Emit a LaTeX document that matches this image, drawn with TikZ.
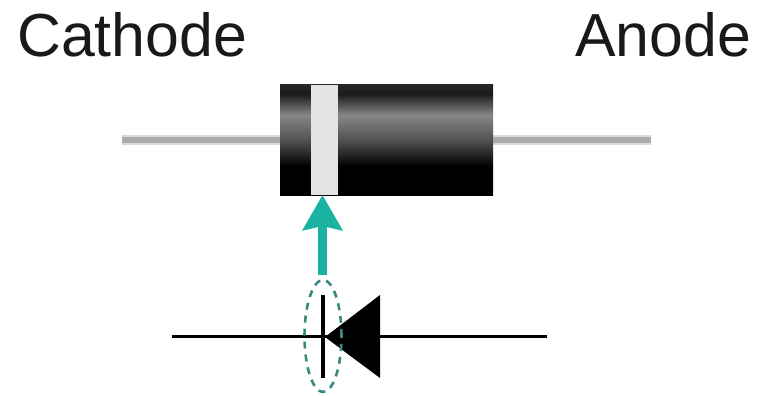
\documentclass[tikz,border=0pt]{standalone}
\usepackage{fontspec}
\setmainfont{Liberation Sans}
\usetikzlibrary{arrows.meta,shapes.geometric}
\pgfdeclareverticalshading{barrel}{100bp}{color(0bp)=(black);color(25bp)=(black);color(38bp)=(black);color(50bp)=(black!68!white);color(61.4bp)=(black!47!white);color(71bp)=(black!90!white);color(75bp)=(black!85!white);color(100bp)=(black)}
\definecolor{teal1}{RGB}{26,178,160}
\tikzset{
  x=1pt,y=-1pt,
  label text/.style={inner sep=0pt,anchor=base west,text=black!90,font=\fontsize{60.8}{61}\selectfont},
  barrel body/.style={inner sep=0pt,minimum height=110pt,shading=barrel,anchor=north west,outer sep=0pt},
  stripe/.style={inner sep=0pt,minimum height=110pt,minimum width=27pt,fill=black!11,anchor=north west,outer sep=0pt},
  lead edge/.style={line width=10pt,draw=black!14},
  lead/.style={line width=5.5pt,draw=black!33},
  wire/.style={line width=3pt,draw=black},
  pointer/.style={line width=9pt,draw=teal1,-{Stealth[length=35pt,width=39pt,inset=4pt]}},
  halo/.style={draw=teal1!65!black!85,dash pattern=on 7pt off 6pt,line width=2.6pt,ellipse,minimum width=37pt,minimum height=112pt,inner sep=0pt},
}
\begin{document}
\begin{tikzpicture}
\useasboundingbox (0,0) rectangle (758,396);
\coordinate (la) at (122,140);
\coordinate (lb) at (651,140);
\coordinate (wa) at (172,336);
\coordinate (wb) at (547,336);
\draw[lead edge] (la) -- (lb);
\draw[lead] (la) -- (lb);
\node[barrel body,minimum width=213pt] (body) at (280,85) {};
\node[stripe] (band) at (311,85) {};
\draw[wire] (wa) -- (wb);
\path[fill=black] (325,337) -- (380,295) -- (380,378) -- cycle;
\node[inner sep=0pt,minimum width=4pt,minimum height=83pt,fill=black] (bar) at (323,336.5) {};
\node[halo] (ring) at (323,336) {};
\coordinate (ps) at (322.5,275);
\draw[pointer] (ps) -- (ps |- band.south);
\node[label text] (cath) at (17,56.5) {Cathode};
\node[label text] (anod) at (575,56.5) {Anode};
\end{tikzpicture}
\end{document}
